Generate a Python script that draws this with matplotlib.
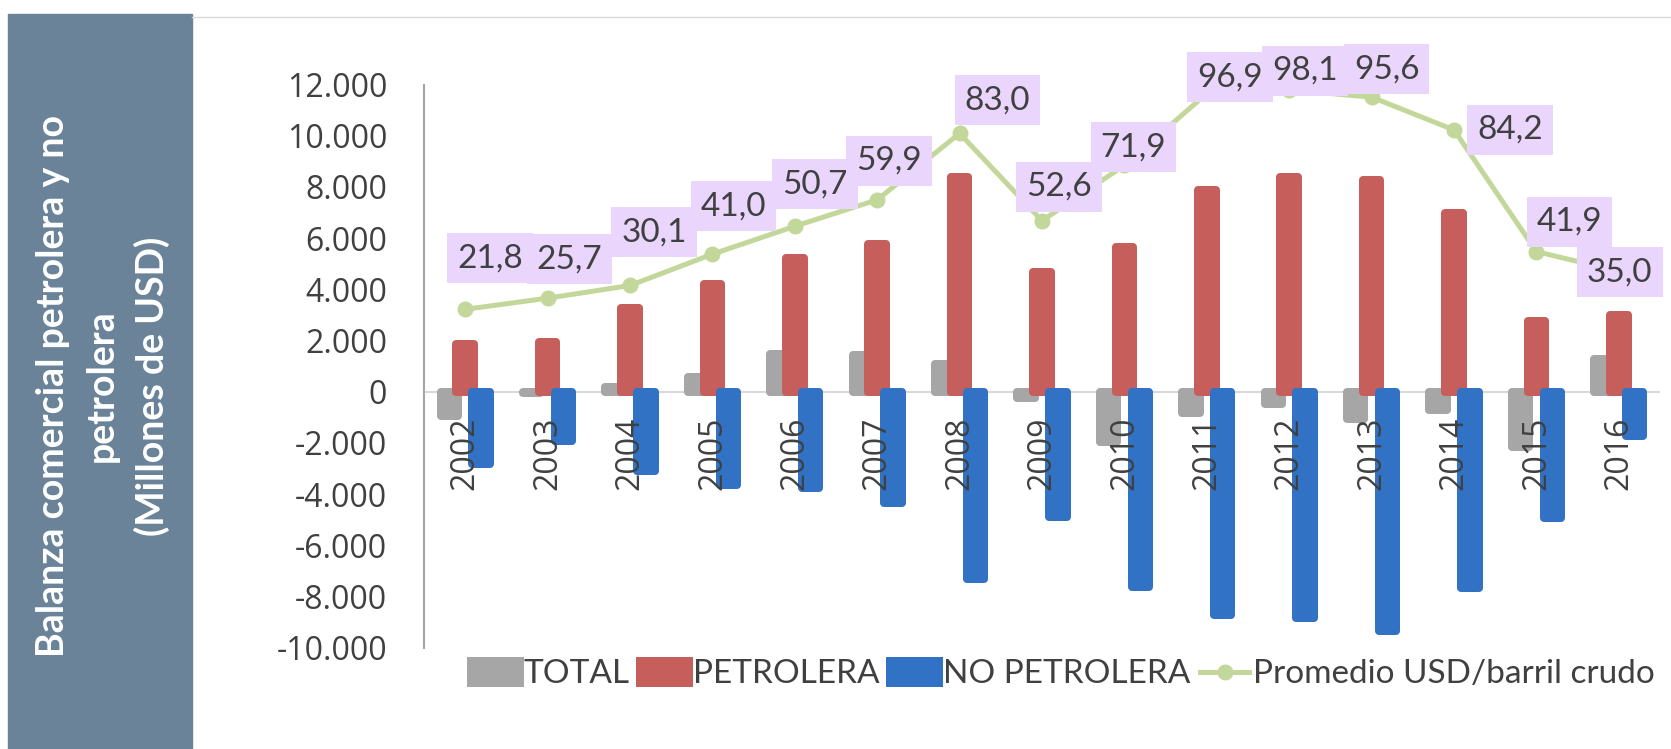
import matplotlib
matplotlib.use("Agg")
import matplotlib.pyplot as plt
import numpy as np
from matplotlib.patches import Rectangle
from matplotlib.lines import Line2D

years = [2002, 2003, 2004, 2005, 2006, 2007, 2008, 2009, 2010, 2011, 2012, 2013, 2014, 2015, 2016]
total = [-950, -50, 200, 570, 1480, 1430, 1100, -250, -1980, -840, -470, -1080, -720, -2150, 1280]
petrolera = [1860, 1930, 3270, 4190, 5210, 5780, 8400, 4660, 5660, 7890, 8380, 8270, 6970, 2770, 3010]
no_petrolera = [-2810, -1930, -3100, -3640, -3750, -4360, -7300, -4890, -7640, -8730, -8830, -9350, -7680, -4920, -1730]
precio = [21.8, 25.7, 30.1, 41.0, 50.7, 59.9, 83.0, 52.6, 71.9, 96.9, 98.1, 95.6, 84.2, 41.9, 35.0]

# posicion de las etiquetas del precio respecto al punto (pixeles)
label_offsets = [(25, 51), (22, 39), (24, 53), (21, 48), (20, 42), (12, 39), (38, 33), (17, 34),
                 (9, 18), (23, 16), (16, 19), (15, 28), (56, 0), (33, 30), (1, -1)]

plt.rcParams['font.family'] = ['Lato', 'DejaVu Sans']

W, H = 1671, 749
fig = plt.figure(figsize=(W / 100, H / 100), dpi=100)

# panel lateral con el titulo
fig.patches.append(Rectangle((8 / W, 0), (192 - 8) / W, (H - 14) / H, transform=fig.transFigure,
                             color='#6a8399', zorder=0))
fig.add_artist(Line2D([192 / W, 1], [1 - 17 / H] * 2, color='#d9d9d9', lw=1))
fig.text(103 / W, 1 - 386 / H, 'Balanza comercial petrolera y no\npetrolera\n(Millones de USD)',
         rotation=90, ha='center', va='center', multialignment='center', color='white',
         fontsize=27, fontweight='bold', linespacing=1.5)

ax = fig.add_axes([424 / W, (H - 647.7) / H, (1660 - 424) / W, (647.7 - 84.5) / H])
x = np.arange(len(years))
w = 0.213
step = 0.193
blw = 5.76

gris, rojo, azul, verde = '#a6a6a6', '#c65f5c', '#3172c5', '#c4d79b'
ax.bar(x - step, total, w, color=gris, edgecolor=gris, lw=blw, joinstyle='round', label='TOTAL', zorder=2)
ax.bar(x, petrolera, w, color=rojo, edgecolor=rojo, lw=blw, joinstyle='round', label='PETROLERA', zorder=3)
ax.bar(x + step, no_petrolera, w, color=azul, edgecolor=azul, lw=blw, joinstyle='round', label='NO PETROLERA', zorder=4)
ax.axhline(0, color='#d9d9d9', lw=1.5, zorder=1)

ax.set_xlim(-0.5, len(years) - 0.5)
ax.set_ylim(-10000, 12000)
ax.set_xticks([])
yt = list(range(-10000, 12001, 2000))
ax.set_yticks(yt)
ax.set_yticklabels([f'{v:,}'.replace(',', '.') for v in yt], fontfamily='Open Sans', fontsize=23, color='#404040')
ax.tick_params(axis='y', length=0, pad=26.6)
for s in ['top', 'right', 'bottom']:
    ax.spines[s].set_visible(False)
ax.spines['left'].set_color('#a6a6a6')
ax.spines['left'].set_linewidth(1.5)

for xi, yr in zip(x, years):
    ax.annotate(str(yr), xy=(xi, 0), xytext=(0, -25), textcoords='offset pixels', rotation=90,
                ha='center', va='top', fontsize=23, family='Open Sans', color='#404040', zorder=6)

ax2 = ax.twinx()
ax2.set_ylim(-95.86, 100)
ax2.axis('off')
ax2.plot(x, precio, color=verde, lw=3.6, marker='o', ms=10.5, label='Promedio USD/barril crudo', zorder=3)
for xi, v, (dx, dy) in zip(x, precio, label_offsets):
    ax2.annotate(f'{v:.1f}'.replace('.', ','), xy=(xi, v), xytext=(dx, dy), textcoords='offset pixels',
                 ha='center', va='center', fontsize=24, color='#404040', zorder=5, annotation_clip=False,
                 bbox=dict(boxstyle='square,pad=0.3', fc='#ead6fd', ec='none'))

h1, l1 = ax.get_legend_handles_labels()
h2, l2 = ax2.get_legend_handles_labels()
fig.legend(h1 + h2, l1 + l2, loc='center', bbox_to_anchor=(0.6361, 0.0995), ncol=4, frameon=False,
           fontsize=24, handlelength=1.47, handleheight=0.63, handletextpad=0.12, columnspacing=0.3,
           labelcolor='#404040')

fig.savefig('out.png', dpi=100)
